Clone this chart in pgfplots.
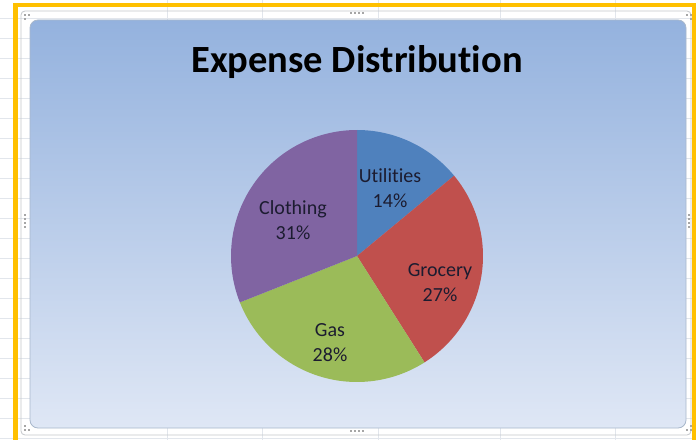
\documentclass[border=0pt]{standalone}
\usepackage{pgfplots}
\pgfplotsset{compat=1.18}
\usepackage{pgfplotstable}
\usepackage{fontspec}
\setmainfont{Carlito}[Ligatures=NoCommon]

\definecolor{slice0}{HTML}{4F81BD}
\definecolor{slice1}{HTML}{C0504D}
\definecolor{slice2}{HTML}{9BBB59}
\definecolor{slice3}{HTML}{8064A2}
\definecolor{bgtop}{HTML}{94B2DE}
\definecolor{bgbot}{HTML}{DFE7F5}
\definecolor{frameyellow}{HTML}{FFC000}
\definecolor{gridgray}{HTML}{E2E6EC}
\definecolor{areaborder}{HTML}{A9B8CC}
\definecolor{labelcol}{HTML}{1C1C30}

\tikzset{pielabel/.style={font=\fontsize{20}{25}\selectfont,text=labelcol,align=center,inner sep=0pt}}

% pct = share in percent; lx, ly = label centre
\pgfplotstableread{
name      pct lx  ly
Utilities 14  390 252
Grocery   27  440 157
Gas       28  330 97
Clothing  31  293 220
}\expensedata

\begin{document}
\begin{tikzpicture}[x=1pt,y=1pt]
% sheet background
\fill[white] (0,0) rectangle (696,440);
\foreach \gx in {167,262,378,500,615} \draw[gridgray,line width=0.8pt] (\gx,0) -- (\gx,440);
\foreach \gy in {2,22,...,422} \draw[gridgray,line width=0.8pt] (0,\gy) -- (696,\gy);
% selection frame
\draw[gridgray!70!gray,line width=0.8pt,rounded corners=4pt] (21,5) rectangle (691,429);
% chart area
\shade[top color=bgtop,bottom color=bgbot,rounded corners=8pt] (30,12) rectangle (686,420);
\draw[areaborder,line width=0.8pt,rounded corners=8pt] (30,12) rectangle (686,420);
% yellow frame
\fill[frameyellow] (13,0) rectangle (17.5,437);
\fill[frameyellow] (13,432.5) rectangle (696,437);
\fill[frameyellow] (691.5,0) rectangle (696,437);
% handles
\foreach \hx in {350,354,358,362}{
  \fill[gray!70] (\hx,426) rectangle ++(1.6,1.6);
  \fill[gray!70] (\hx,8) rectangle ++(1.6,1.6);
}
\foreach \hy in {212,216,220,224}{
  \fill[gray!70] (24,\hy) rectangle ++(1.6,1.6);
  \fill[gray!70] (688,\hy) rectangle ++(1.6,1.6);
}
\foreach \cx/\cy in {24/424,28/424,24/420,686/424,690/424,690/420,24/9,28/9,24/13,686/9,690/9,690/13}
  \fill[gray!70] (\cx,\cy) rectangle ++(1.6,1.6);

\begin{axis}[
  width=696pt,height=440pt,scale only axis,
  xmin=0,xmax=696,ymin=0,ymax=440,
  hide axis,clip=false,
  at={(0,0)},anchor=south west,
]
\def\cumangle{90}
\pgfplotsforeachungrouped \i in {0,...,3}{%
  \pgfplotstablegetelem{\i}{pct}\of\expensedata
  \pgfmathsetmacro\sweep{\pgfplotsretval*3.6}%
  \pgfmathsetmacro\endangle{\cumangle-\sweep}%
  \edef\temp{\noexpand\fill[slice\i] (axis cs:357,184) -- ++(\cumangle:126pt) arc[start angle=\cumangle,end angle=\endangle,radius=126pt] -- cycle;}%
  \temp
  \global\let\cumangle\endangle
}
\pgfplotsforeachungrouped \i in {0,...,3}{%
  \pgfplotstablegetelem{\i}{name}\of\expensedata\let\nm\pgfplotsretval
  \pgfplotstablegetelem{\i}{pct}\of\expensedata\let\pc\pgfplotsretval
  \pgfplotstablegetelem{\i}{lx}\of\expensedata\let\lx\pgfplotsretval
  \pgfplotstablegetelem{\i}{ly}\of\expensedata\let\ly\pgfplotsretval
  \edef\temp{\noexpand\node[pielabel] at (axis cs:\lx,\ly) {\nm\noexpand\\\pc\noexpand\%};}%
  \temp
}
\node[font=\fontsize{38.5}{44}\selectfont\bfseries,text=black] at (axis cs:357,378) {Expense Distribution};
\end{axis}
\pgfresetboundingbox
\useasboundingbox (0,0) rectangle (696,440);
\end{tikzpicture}
\end{document}
